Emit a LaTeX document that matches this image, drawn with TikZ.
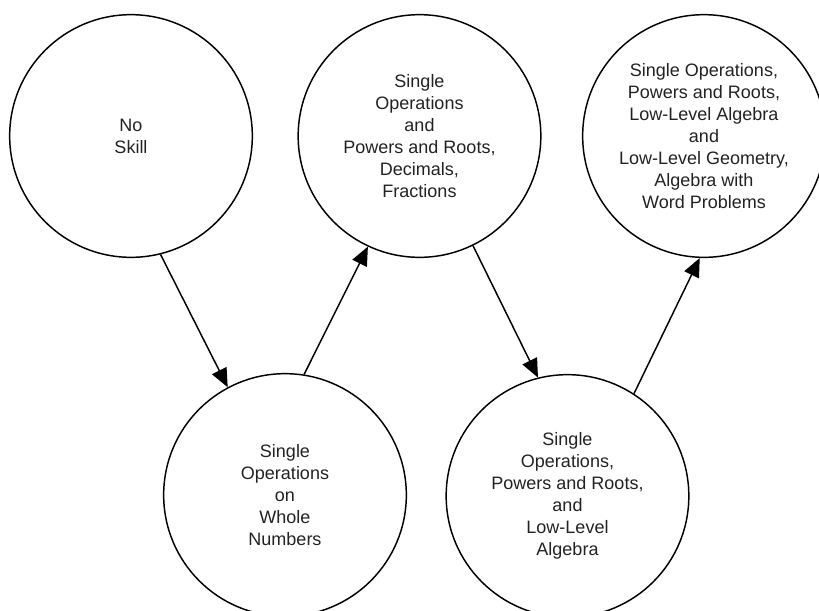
\documentclass[tikz,border=0pt]{standalone}
\usepackage{fontspec}
\setmainfont{Liberation Sans}
\usepackage{xcolor}
\usepackage{tikz}
\usetikzlibrary{arrows.meta}
\definecolor{skillink}{RGB}{34,34,34}
\tikzset{
  skill/.style={circle,draw=black,line width=1.1pt,minimum size=182pt,inner sep=0pt,
    font=\fontsize{13.5}{16.4}\selectfont,text=skillink,align=center},
  advance/.style={-{Triangle[length=14pt,width=12pt]},line width=1.1pt,black}
}
\begin{document}
\begin{tikzpicture}[x=0.75pt,y=-0.75pt]
  \useasboundingbox (0,0) rectangle (819,611);
  \node[skill] (noskill) at (131,136) {No\\Skill};
  \node[skill] (wholenum) at (285,495) {Single\\Operations\\on\\Whole\\Numbers};
  \node[skill] (fractions) at (419.5,136) {Single\\Operations\\and\\Powers and Roots,\\Decimals,\\Fractions};
  \node[skill] (lowalg) at (567.5,496) {Single\\Operations,\\Powers and Roots,\\and\\Low-Level\\Algebra};
  \node[skill] (wordprob) at (704,136) {Single Operations,\\Powers and Roots,\\Low-Level Algebra\\and\\Low-Level Geometry,\\Algebra with\\Word Problems};

  \draw[advance] (noskill.-76) -- (wholenum.118);
  \draw[advance] (wholenum.81) -- (fractions.-115);
  \draw[advance] (fractions.-64) -- (lowalg.104);
  \draw[advance] (lowalg.57) -- (wordprob.-92);
\end{tikzpicture}
\end{document}
